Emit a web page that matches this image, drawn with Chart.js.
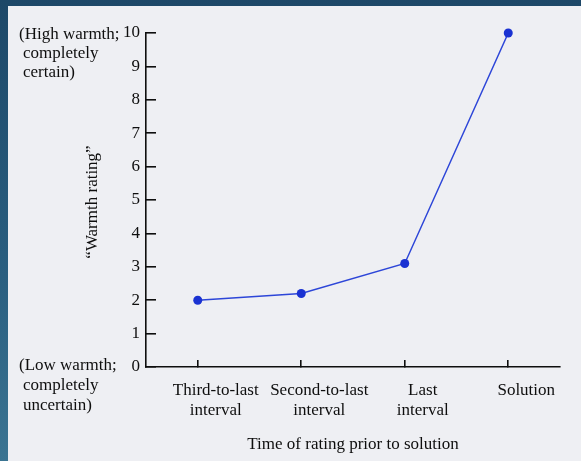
<!DOCTYPE html>
<html>
<head>
<meta charset="utf-8">
<script src="https://cdn.jsdelivr.net/npm/chart.js@4"></script>
<style>
  html, body { margin: 0; padding: 0; width: 581px; height: 461px; overflow: hidden; }
  body { background: linear-gradient(180deg, #1d4868 0%, #2a5f80 60%, #3b7492 100%); position: relative; }
  #page { position: absolute; left: 8px; top: 6px; right: 0; bottom: 0; background: #eeeff3; }
  #wrap { position: absolute; left: 0; top: 0; width: 581px; height: 461px; }
</style>
</head>
<body>
<div id="page"></div>
<div id="wrap"><canvas id="warmthChart"></canvas></div>
<script>
const categories = [
    ["Third-to-last", "interval"],
    ["Second-to-last", "interval"],
    ["Last", "interval"],
    "Solution"
];
const warmth = [2.0, 2.2, 3.1, 10.0];
const yTicks = [0, 1, 2, 3, 4, 5, 6, 7, 8, 9, 10];
const highNote = ["(High warmth;", "completely", "certain)"];
const lowNote = ["(Low warmth;", "completely", "uncertain)"];

const serif = "'Liberation Serif', 'DejaVu Serif', serif";
const ink = "#0e0e0e";

// y title and the two end notes beside the axis
const sideText = {
    id: "sideText",
    afterDraw(chart) {
        const ctx = chart.ctx;
        const y = chart.scales.y;
        ctx.save();
        ctx.fillStyle = ink;
        ctx.font = "17px " + serif;
        ctx.textAlign = "left";
        ctx.textBaseline = "middle";
        highNote.forEach((t, i) => ctx.fillText(t, i === 0 ? 19 : 23, y.getPixelForValue(10) + 2 + i * 19));
        lowNote.forEach((t, i) => ctx.fillText(t, i === 0 ? 19 : 23, y.getPixelForValue(0) - 1 + i * 20));
        ctx.translate(93, (y.top + y.bottom) / 2 + 2);
        ctx.rotate(-Math.PI / 2);
        ctx.textAlign = "center";
        ctx.fillText("\u201CWarmth rating\u201D", 0, 0);
        ctx.restore();
    }
};

new Chart(document.getElementById("warmthChart"), {
    type: "line",
    data: {
        labels: categories,
        datasets: [{
            data: warmth,
            borderColor: "#2d46d8",
            borderWidth: 1.5,
            backgroundColor: "#1a32d2",
            pointBackgroundColor: "#1a32d2",
            pointBorderWidth: 0,
            pointRadius: 4.5,
            tension: 0,
            clip: false
        }]
    },
    options: {
        responsive: true,
        maintainAspectRatio: false,
        animation: false,
        layout: { padding: { left: 0, top: 33, right: 21, bottom: 6 } },
        plugins: { legend: { display: false }, tooltip: { enabled: false } },
        scales: {
            x: {
                offset: true,
                afterFit: s => { s.height = 88; },
                border: { display: true, color: ink, width: 1.6 },
                grid: { drawOnChartArea: false, tickLength: -7, color: ink, lineWidth: 1.6 },
                ticks: {
                    color: ink,
                    font: { family: serif, size: 17 },
                    padding: 20,
                    labelOffset: 18,
                    maxRotation: 0,
                    autoSkip: false
                },
                title: {
                    display: true,
                    text: "Time of rating prior to solution",
                    color: ink,
                    font: { family: serif, size: 17 },
                    padding: { top: 0, bottom: 0 }
                }
            },
            y: {
                min: 0,
                max: 10,
                afterFit: s => { s.width = 146; },
                afterBuildTicks: s => { s.ticks = yTicks.map(v => ({ value: v })); },
                border: { display: true, color: ink, width: 1.6 },
                grid: { drawOnChartArea: false, tickLength: -10, color: ink, lineWidth: 1.6 },
                ticks: {
                    color: ink,
                    font: { family: serif, size: 17 },
                    padding: 16
                }
            }
        }
    },
    plugins: [sideText]
});
</script>
</body>
</html>
